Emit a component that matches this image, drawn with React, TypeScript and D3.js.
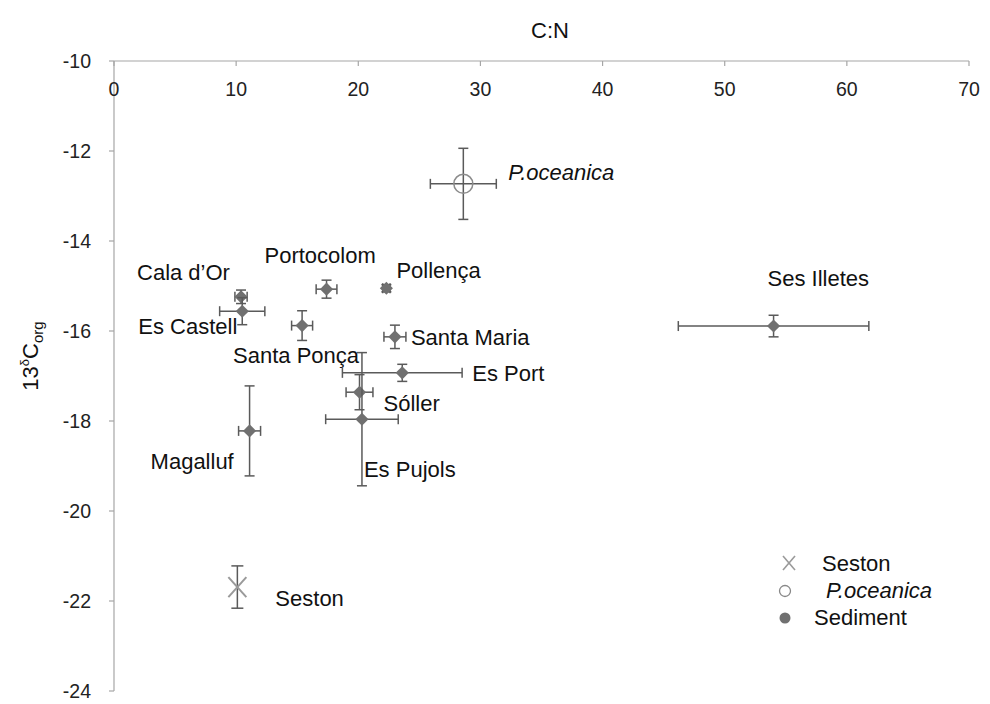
import React from "react";
import * as d3 from "d3";

// Site means with standard deviations (C:N ratio, δ13C of organic matter)
const siteNames = [
  "Cala d’Or", "Es Castell", "Portocolom", "Pollença", "Santa Ponça", "Santa Maria",
  "Es Port", "Sóller", "Es Pujols", "Magalluf", "Ses Illetes",
];
const siteCN = [10.4, 10.5, 17.4, 22.3, 15.4, 23.0, 23.6, 20.1, 20.3, 11.1, 54.0];
const siteCNsd = [0.5, 1.85, 0.85, 0.3, 0.86, 0.9, 4.9, 1.1, 2.97, 0.9, 7.8];
const siteD13C = [-15.24, -15.56, -15.07, -15.05, -15.88, -16.13, -16.93, -17.36, -17.96, -18.22, -15.89];
const siteD13Csd = [0.15, 0.3, 0.2, 0.08, 0.33, 0.26, 0.19, 0.39, 1.48, 1.0, 0.24];
// label anchor offsets (dx, dy) relative to each marker
const siteLabelOffsets: [number, number][] = [
  [-104, -25], [-104, 15], [-62, -34], [10, -18], [-69, 30], [16, 0],
  [70, 0], [24, 11], [2, 50], [-99, 30], [-6, -48],
];

const posidonia = { name: "P.oceanica", cn: 28.6, cnSd: 2.7, d13c: -12.73, d13cSd: 0.79 };
const seston = { name: "Seston", cn: 10.1, cnSd: 0, d13c: -21.69, d13cSd: 0.47 };

const xTicks = [0, 10, 20, 30, 40, 50, 60, 70];
const yTicks = [-10, -12, -14, -16, -18, -20, -22, -24];

const W = 990;
const H = 704;
const FONT = "'Liberation Sans', Arial, sans-serif";
const LABEL_SIZE = 22;
const TICK_SIZE = 19.5;

const x = d3.scaleLinear().domain([0, 70]).range([114, 969]);
const y = d3.scaleLinear().domain([-10, -24]).range([61, 691]);

const AXIS = "#a6a6a6";
const BAR = "#5a5a5a";
const MARK = "#707070";

function ErrorBars({ cx, cy, sx, sy, cap = 5 }: { cx: number; cy: number; sx: number; sy: number; cap?: number }) {
  const x0 = x(cx - sx), x1 = x(cx + sx);
  const y0 = y(cy + sy), y1 = y(cy - sy);
  const px = x(cx), py = y(cy);
  return (
    <g stroke={BAR} strokeWidth={1.5} fill="none">
      {sx > 0 && (
        <>
          <line x1={x0} x2={x1} y1={py} y2={py} />
          <line x1={x0} x2={x0} y1={py - cap} y2={py + cap} />
          <line x1={x1} x2={x1} y1={py - cap} y2={py + cap} />
        </>
      )}
      {sy > 0 && (
        <>
          <line x1={px} x2={px} y1={y0} y2={y1} />
          <line x1={px - cap} x2={px + cap} y1={y0} y2={y0} />
          <line x1={px - cap} x2={px + cap} y1={y1} y2={y1} />
        </>
      )}
    </g>
  );
}

const diamond = d3.symbol().type(d3.symbolDiamond2).size(110)()!;

export default function App() {
  return (
    <svg width={W} height={H} style={{ display: "block", position: "absolute", left: 0, top: 0, background: "#fff" }}>
      {/* axes */}
      <g>
        <line x1={x(0)} x2={x(70)} y1={y(-10)} y2={y(-10)} stroke={AXIS} strokeWidth={1.2} />
        <line x1={x(0)} x2={x(0)} y1={y(-10)} y2={y(-24)} stroke={AXIS} strokeWidth={1.2} />
        {xTicks.map((t) => (
          <g key={"x" + t}>
            <line x1={x(t)} x2={x(t)} y1={y(-10)} y2={y(-10) + 5} stroke={AXIS} strokeWidth={1.2} />
            <text x={x(t)} y={y(-10) + 35} textAnchor="middle" fontFamily={FONT} fontSize={TICK_SIZE} fill="#222">{t}</text>
          </g>
        ))}
        {yTicks.map((t) => (
          <g key={"y" + t}>
            <line x1={x(0) - 5} x2={x(0)} y1={y(t)} y2={y(t)} stroke={AXIS} strokeWidth={1.2} />
            <text x={x(0) - 23} y={y(t)} dy="0.35em" textAnchor="end" fontFamily={FONT} fontSize={TICK_SIZE} fill="#222">{t}</text>
          </g>
        ))}
      </g>

      {/* axis titles */}
      <text x={550} y={38} textAnchor="middle" fontFamily={FONT} fontSize={LABEL_SIZE} fill="#111">C:N</text>
      <g transform="translate(38,356) rotate(-90)">
        <text textAnchor="middle" fontFamily={FONT} fontSize={LABEL_SIZE} fill="#111">
          <tspan>13</tspan>
          <tspan fontSize={13} dy={-9}>δ</tspan>
          <tspan dy={9}>C</tspan>
          <tspan fontSize={15} dy={5}>org</tspan>
        </text>
      </g>

      {/* sediment sites */}
      {siteNames.map((n, i) => (
        <g key={n}>
          <ErrorBars cx={siteCN[i]} cy={siteD13C[i]} sx={siteCNsd[i]} sy={siteD13Csd[i]} />
          <path d={diamond} transform={`translate(${x(siteCN[i])},${y(siteD13C[i])})`} fill={MARK} />
        </g>
      ))}
      {siteNames.map((n, i) => (
        <text key={"l" + n} x={x(siteCN[i]) + siteLabelOffsets[i][0]} y={y(siteD13C[i]) + siteLabelOffsets[i][1]} dy="0.35em"
          fontFamily={FONT} fontSize={LABEL_SIZE} fill="#111">{n}</text>
      ))}

      {/* Posidonia oceanica */}
      <ErrorBars cx={posidonia.cn} cy={posidonia.d13c} sx={posidonia.cnSd} sy={posidonia.d13cSd} />
      <circle cx={x(posidonia.cn)} cy={y(posidonia.d13c)} r={9.5} fill="none" stroke="#8c8c8c" strokeWidth={1.5} />
      <text x={x(posidonia.cn) + 45} y={y(posidonia.d13c) - 12} dy="0.35em" fontFamily={FONT} fontSize={LABEL_SIZE} fontStyle="italic" fill="#111">{posidonia.name}</text>

      {/* seston */}
      <ErrorBars cx={seston.cn} cy={seston.d13c} sx={seston.cnSd} sy={seston.d13cSd} cap={6} />
      <g stroke="#9a9a9a" strokeWidth={2}>
        <line x1={x(seston.cn) - 9} x2={x(seston.cn) + 9} y1={y(seston.d13c) - 10} y2={y(seston.d13c) + 10} />
        <line x1={x(seston.cn) - 9} x2={x(seston.cn) + 9} y1={y(seston.d13c) + 10} y2={y(seston.d13c) - 10} />
      </g>
      <text x={x(seston.cn) + 38} y={y(seston.d13c) + 11} dy="0.35em" fontFamily={FONT} fontSize={LABEL_SIZE} fill="#111">{seston.name}</text>

      {/* legend */}
      <g>
        <g stroke="#9a9a9a" strokeWidth={1.6}>
          <line x1={783} x2={795} y1={556} y2={570} />
          <line x1={783} x2={795} y1={570} y2={556} />
        </g>
        <text x={822} y={563} dy="0.35em" fontFamily={FONT} fontSize={LABEL_SIZE} fill="#111">Seston</text>
        <circle cx={785} cy={591} r={5.5} fill="none" stroke="#888" strokeWidth={1.3} />
        <text x={826} y={590} dy="0.35em" fontFamily={FONT} fontSize={LABEL_SIZE} fontStyle="italic" fill="#111">P.oceanica</text>
        <circle cx={785} cy={618} r={5.5} fill={MARK} />
        <text x={814} y={617} dy="0.35em" fontFamily={FONT} fontSize={LABEL_SIZE} fill="#111">Sediment</text>
      </g>
    </svg>
  );
}
